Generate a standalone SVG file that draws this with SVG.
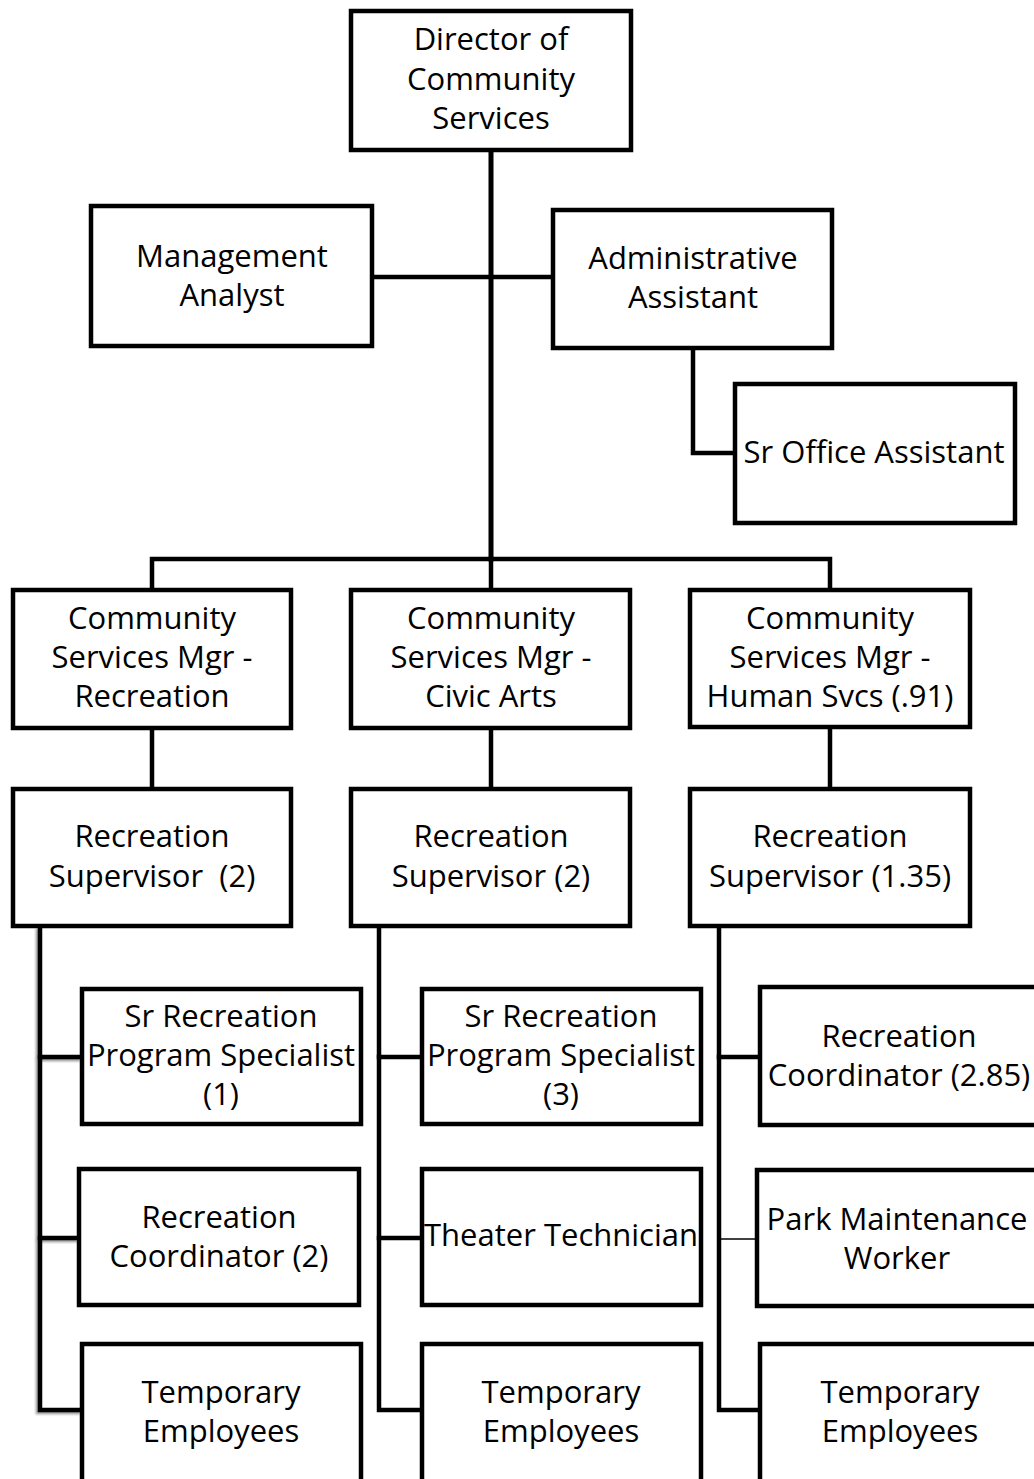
<svg xmlns="http://www.w3.org/2000/svg" width="1034" height="1479" viewBox="0 0 1034 1479">
  <style>
    .box { fill: #ffffff; stroke: #000000; stroke-width: 4.5; stroke-linejoin: miter; }
    .lbl { font-family: "Open Sans", "Noto Sans", "Liberation Sans", sans-serif; font-size: 31px; fill: #000000; text-anchor: middle; }
    .wire { fill: none; stroke: #000000; stroke-width: 4.5; stroke-linecap: square; stroke-linejoin: miter; }
    .trunk { stroke-width: 5; }
    .thin { stroke-width: 1.5; stroke-linecap: butt; }
  </style>
  <defs>
    <filter id="soft-shadow" x="-20%" y="-5%" width="140%" height="110%">
      <feDropShadow dx="-2" dy="2" stdDeviation="1" flood-color="#000000" flood-opacity="0.4"/>
    </filter>
  </defs>
  <rect width="1034" height="1479" fill="#ffffff"/>

  <!-- reporting lines -->
  <g id="connectors">
    <path class="wire trunk" d="M491,152 V559"/>
    <path class="wire" d="M374,277 H551"/>
    <path class="wire" d="M693,350 V453 H733"/>
    <path class="wire" d="M152,588 V559 H830 V588"/>
    <path class="wire" d="M491,559 V588"/>
    <path class="wire" d="M152,730 V787"/>
    <path class="wire" d="M491,730 V787"/>
    <path class="wire" d="M830,730 V787"/>
    <!-- recreation branch -->
    <g filter="url(#soft-shadow)">
      <path class="wire" d="M40,929 V1410 H80"/>
      <path class="wire" d="M40,1057 H80"/>
      <path class="wire" d="M40,1238 H77"/>
    </g>
    <!-- civic arts branch -->
    <path class="wire" d="M379,929 V1410 H420"/>
    <path class="wire" d="M379,1057 H420"/>
    <path class="wire" d="M379,1238 H420"/>
    <!-- human services branch -->
    <path class="wire" d="M719,929 V1410 H758"/>
    <path class="wire" d="M719,1057 H758"/>
    <path class="wire thin" d="M719,1239 H755"/>
  </g>

  <g id="director">
    <rect class="box" x="351" y="11" width="280" height="139"/>
    <text class="lbl" x="491" y="50">Director of</text>
    <text class="lbl" x="491" y="90">Community</text>
    <text class="lbl" x="491" y="129">Services</text>
  </g>

  <g id="management-analyst">
    <rect class="box" x="91" y="206" width="281" height="140"/>
    <text class="lbl" x="232" y="267">Management</text>
    <text class="lbl" x="232" y="306">Analyst</text>
  </g>

  <g id="administrative-assistant">
    <rect class="box" x="553" y="210" width="279" height="138"/>
    <text class="lbl" x="693" y="269">Administrative</text>
    <text class="lbl" x="693" y="308">Assistant</text>
  </g>

  <g id="sr-office-assistant">
    <rect class="box" x="735" y="384" width="280" height="139"/>
    <text class="lbl" x="874" y="463">Sr Office Assistant</text>
  </g>

  <g id="mgr-recreation">
    <rect class="box" x="13" y="590" width="278" height="138"/>
    <text class="lbl" x="152" y="629">Community</text>
    <text class="lbl" x="152" y="668">Services Mgr -</text>
    <text class="lbl" x="152" y="707">Recreation</text>
  </g>

  <g id="mgr-civic-arts">
    <rect class="box" x="351" y="590" width="279" height="138"/>
    <text class="lbl" x="491" y="629">Community</text>
    <text class="lbl" x="491" y="668">Services Mgr -</text>
    <text class="lbl" x="491" y="707">Civic Arts</text>
  </g>

  <g id="mgr-human-services">
    <rect class="box" x="690" y="590" width="280" height="137"/>
    <text class="lbl" x="830" y="629">Community</text>
    <text class="lbl" x="830" y="668">Services Mgr -</text>
    <text class="lbl" x="830" y="707">Human Svcs (.91)</text>
  </g>

  <g id="supervisor-recreation">
    <rect class="box" x="13" y="789" width="278" height="137"/>
    <text class="lbl" x="152" y="847">Recreation</text>
    <text class="lbl" x="152" y="887" xml:space="preserve">Supervisor  (2)</text>
  </g>

  <g id="supervisor-civic-arts">
    <rect class="box" x="351" y="789" width="279" height="137"/>
    <text class="lbl" x="491" y="847">Recreation</text>
    <text class="lbl" x="491" y="887">Supervisor (2)</text>
  </g>

  <g id="supervisor-human-services">
    <rect class="box" x="690" y="789" width="280" height="137"/>
    <text class="lbl" x="830" y="847">Recreation</text>
    <text class="lbl" x="830" y="887">Supervisor (1.35)</text>
  </g>

  <g id="sr-specialist-recreation">
    <rect class="box" x="82" y="989" width="279" height="135"/>
    <text class="lbl" x="221" y="1027">Sr Recreation</text>
    <text class="lbl" x="221" y="1066">Program Specialist</text>
    <text class="lbl" x="221" y="1105">(1)</text>
  </g>

  <g id="coordinator-recreation">
    <rect class="box" x="79" y="1169" width="280" height="136"/>
    <text class="lbl" x="219" y="1228">Recreation</text>
    <text class="lbl" x="219" y="1267">Coordinator (2)</text>
  </g>

  <g id="temporary-recreation">
    <rect class="box" x="82" y="1344" width="279" height="160"/>
    <text class="lbl" x="221" y="1403">Temporary</text>
    <text class="lbl" x="221" y="1442">Employees</text>
  </g>

  <g id="sr-specialist-civic-arts">
    <rect class="box" x="422" y="989" width="279" height="135"/>
    <text class="lbl" x="561" y="1027">Sr Recreation</text>
    <text class="lbl" x="561" y="1066">Program Specialist</text>
    <text class="lbl" x="561" y="1105">(3)</text>
  </g>

  <g id="theater-technician">
    <rect class="box" x="422" y="1169" width="279" height="136"/>
    <text class="lbl" x="561" y="1246">Theater Technician</text>
  </g>

  <g id="temporary-civic-arts">
    <rect class="box" x="422" y="1344" width="279" height="160"/>
    <text class="lbl" x="561" y="1403">Temporary</text>
    <text class="lbl" x="561" y="1442">Employees</text>
  </g>

  <g id="coordinator-human-services">
    <rect class="box" x="760" y="987" width="282" height="138"/>
    <text class="lbl" x="899" y="1047">Recreation</text>
    <text class="lbl" x="899" y="1086">Coordinator (2.85)</text>
  </g>

  <g id="park-maintenance-worker">
    <rect class="box" x="757" y="1170" width="285" height="136"/>
    <text class="lbl" x="897" y="1230">Park Maintenance</text>
    <text class="lbl" x="897" y="1269">Worker</text>
  </g>

  <g id="temporary-human-services">
    <rect class="box" x="760" y="1344" width="282" height="160"/>
    <text class="lbl" x="900" y="1403">Temporary</text>
    <text class="lbl" x="900" y="1442">Employees</text>
  </g>
</svg>
